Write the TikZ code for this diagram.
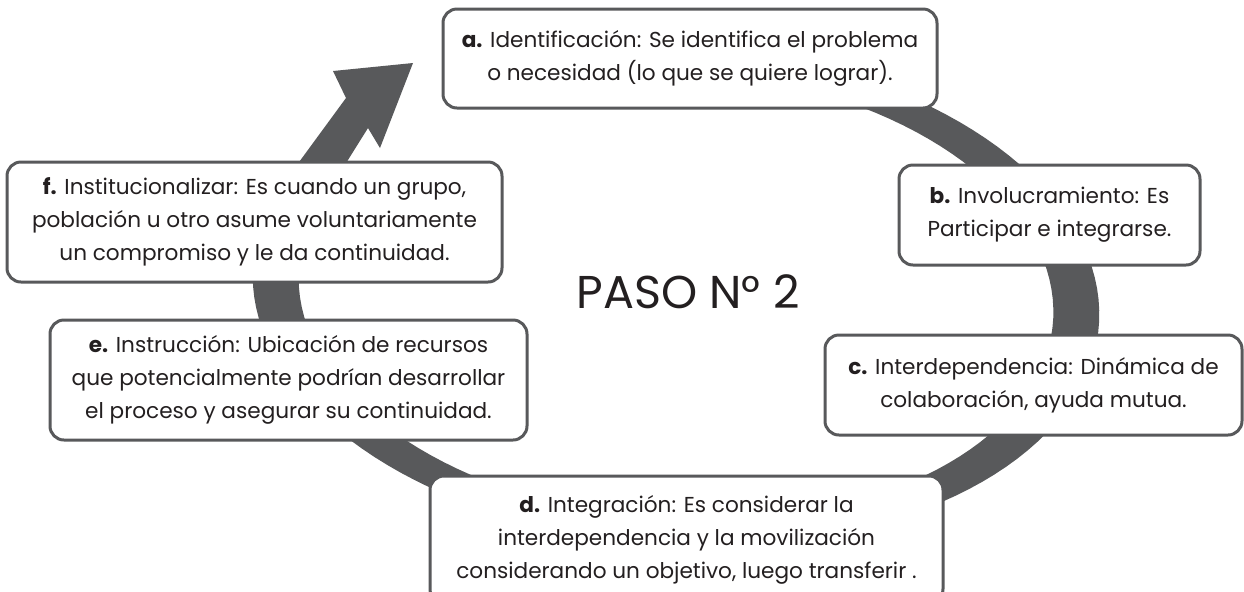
\documentclass[tikz,border=0pt]{standalone}
\usepackage{fontspec}
\setmainfont{Poppins}
\usetikzlibrary{positioning}
\definecolor{ringgray}{HTML}{58595B}
\definecolor{inkgray}{HTML}{231F20}
\tikzset{
  pasobox/.style={draw=ringgray, line width=1.5pt, rounded corners=7pt, fill=white,
    align=center, text=inkgray, inner sep=0pt, font=\fontsize{10.8}{16.5}\selectfont},
}
\begin{document}
\begin{tikzpicture}[x=0.5pt,y=-0.5pt]
		%%%%% START %%%%%
		\useasboundingbox (0,0) rectangle (1244,591);
		
		% ring with arrow head
		\fill[ringgray] plot[domain=-95:200, samples=120]
			({676+424*cos(\x)*cos(4)-250*sin(\x)*sin(4)}, {295+424*cos(\x)*sin(4)+250*sin(\x)*cos(4)})
			-- (346,98) -- (333,71) -- (413,63) -- (380,148) -- (368,128)
			-- plot[domain=200:-95, samples=120]
			({676+378*cos(\x)*cos(4)-225*sin(\x)*sin(4)}, {295+378*cos(\x)*sin(4)+225*sin(\x)*cos(4)})
			-- cycle;
		
		\node[pasobox, minimum width=247pt, minimum height=49.5pt] (ident) at (690,58.5)
			{\textbf{a.} Identificación: Se identifica el problema\\o necesidad (lo que se quiere lograr).};
		\node[pasobox, minimum width=150.5pt, minimum height=50pt] (invol) at (1049.5,215)
			{\textbf{b.} Involucramiento: Es\\Participar e integrarse.};
		\node[pasobox, minimum width=208.5pt, minimum height=50pt] (interdep) at (1033.5,385)
			{\textbf{c.} Interdependencia: Dinámica de\\colaboración, ayuda mutua.};
		\node[pasobox, minimum width=256.5pt, minimum height=63.5pt] (integ) at (686.5,539.5)
			{\textbf{d.} Integración: Es considerar la\\interdependencia y la movilización\\considerando un objetivo, luego transferir .};
		\node[pasobox, minimum width=238.5pt, minimum height=60pt] (instr) at (288.5,380)
			{\textbf{e.} Instrucción: Ubicación de recursos\\que potencialmente podrían desarrollar\\el proceso y asegurar su continuidad.};
		\node[pasobox, minimum width=247.5pt, minimum height=60pt] (instit) at (254.5,222)
			{\textbf{f.} Institucionalizar: Es cuando un grupo,\\población u otro asume voluntariamente\\un compromiso y le da continuidad.};
		
		\node[text=inkgray, font=\fontsize{23}{28}\selectfont] (paso) at (688,292) {PASO N° 2};
		%%%%% END %%%%%
\end{tikzpicture}
\end{document}
